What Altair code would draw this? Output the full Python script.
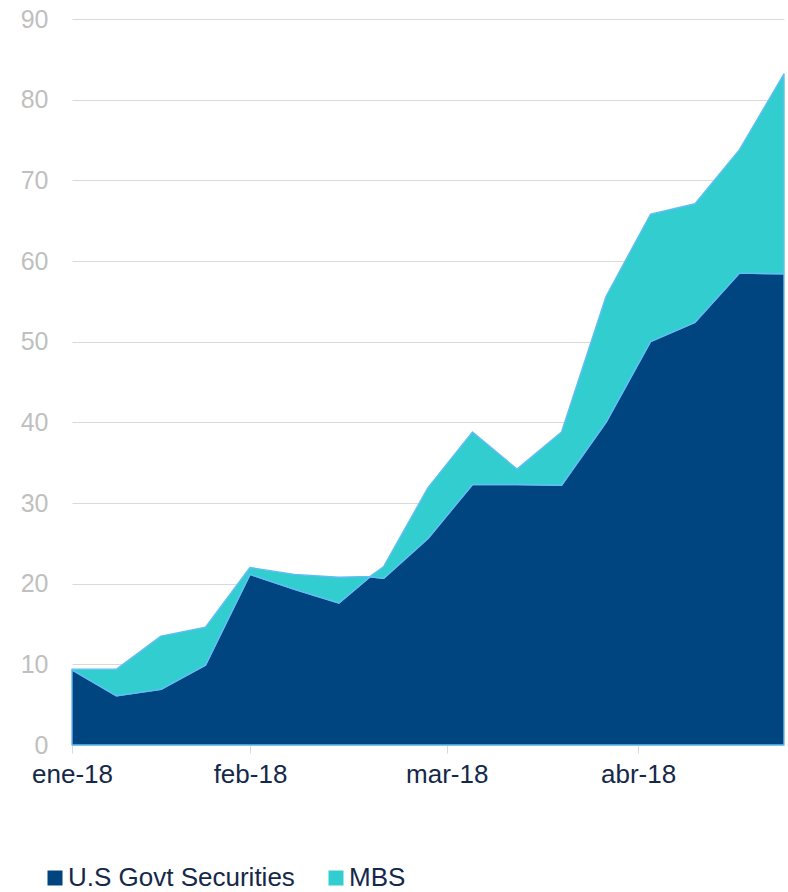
import altair as alt
import pandas as pd

# Posición de cada observación (semanas desde ene-18)
x_pos = [0, 1, 2, 3, 4, 5, 6, 6.7, 7, 8, 9, 10, 11, 12, 13, 14, 15, 16]
gov = [9.3, 6.1, 6.9, 9.9, 21.15, 19.3, 17.6, 20.85, 20.65, 25.6, 32.3, 32.3,
       32.2, 40.0, 50.0, 52.4, 58.5, 58.4]
mbs = [0.1, 3.3, 6.6, 4.7, 0.85, 1.85, 3.2, 0.05, 1.45, 6.3, 6.5, 1.9,
       6.6, 15.6, 15.8, 14.7, 15.3, 24.8]

series = ["U.S Govt Securities", "MBS"]
colors = ["#00457F", "#31CDCF"]

tick_pos = [0, 4, 8.42, 12.72]
tick_labels = ["ene-18", "feb-18", "mar-18", "abr-18"]
y_ticks = list(range(0, 91, 10))

rows = []
for i, x in enumerate(x_pos):
    rows.append({"x": x, "serie": series[0], "valor": gov[i], "orden": 0})
    rows.append({"x": x, "serie": series[1], "valor": mbs[i], "orden": 1})
df = pd.DataFrame(rows)

label_expr = "{}[indexof({}, datum.value)]".format(
    "[" + ",".join("'" + t + "'" for t in tick_labels) + "]",
    "[" + ",".join(str(v) for v in tick_pos) + "]",
)

FONT = "Liberation Sans"

chart = alt.Chart(df).mark_area(
    stroke="#62BDF4", strokeWidth=1.4, strokeJoin="round"
).encode(
    x=alt.X(
        "x:Q",
        scale=alt.Scale(domain=[0, 16], nice=False, zero=False),
        axis=alt.Axis(
            values=tick_pos, labelExpr=label_expr, title=None, grid=False,
            domain=False, ticks=True, tickColor="#D9D9D9", tickSize=8,
            labelFontSize=26, labelColor="#14294A", labelPadding=8,
            labelFlush=False, labelFont=FONT,
        ),
    ),
    y=alt.Y(
        "valor:Q",
        stack="zero",
        scale=alt.Scale(domain=[0, 90], nice=False),
        axis=alt.Axis(
            values=y_ticks, title=None, domain=False, ticks=False,
            labelPadding=24, labelFontSize=25, labelColor="#BFBFBF",
            gridColor="#D9D9D9", labelFlush=False, labelFont=FONT,
        ),
    ),
    color=alt.Color(
        "serie:N",
        scale=alt.Scale(domain=series, range=colors),
        legend=alt.Legend(
            orient="none", legendX=-30, legendY=846, direction="horizontal",
            title=None, symbolType="square", symbolSize=225,
            labelFontSize=26, labelColor="#14294A", labelOffset=0,
            labelLimit=400, columnPadding=28, symbolStrokeWidth=0,
            labelFont=FONT,
        ),
    ),
    order=alt.Order("orden:Q", sort="ascending"),
).properties(
    width=712,
    height=726,
    autosize="none",
    padding={"left": 72, "top": 19, "right": 4, "bottom": 147},
).configure(font=FONT).configure_view(stroke=None)

chart.save("out.html", embed_options={"renderer": "svg", "actions": False})
